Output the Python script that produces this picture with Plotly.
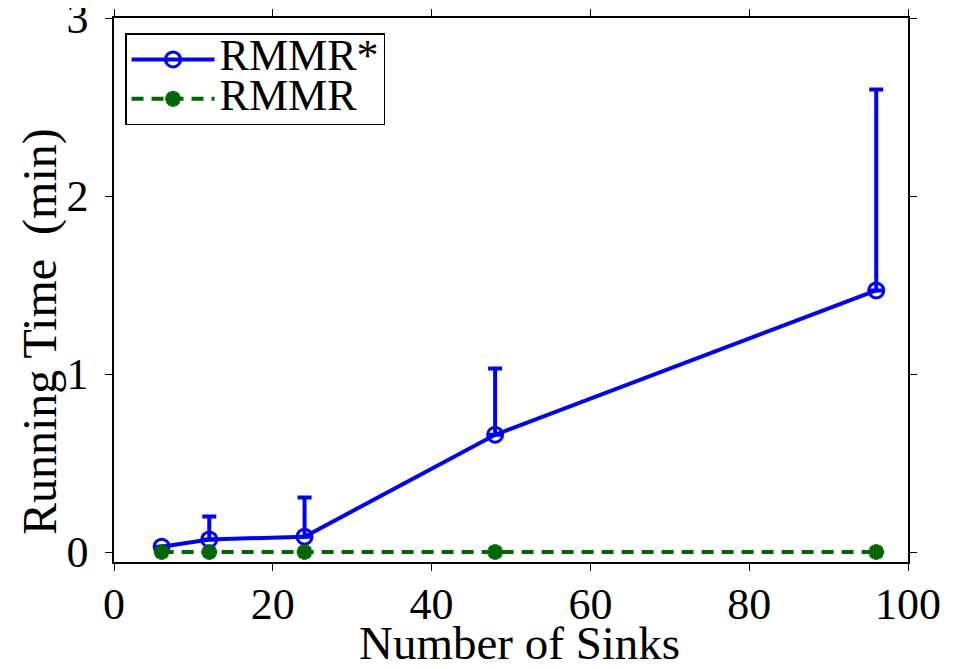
import plotly.graph_objects as go

sinks = [6, 12, 24, 48, 96]
rmmr_star = [0.03, 0.071, 0.086, 0.659, 1.470]
rmmr_star_upper = [0.03, 0.199, 0.306, 1.031, 2.599]
rmmr = [0.0, 0.0, 0.0, 0.0, 0.0]

x_ticks = [0, 20, 40, 60, 80, 100]
y_ticks = [0, 1, 2, 3]

FONT = "Liberation Serif"
BLUE = "#0000FF"
GREEN = "#006600"

err_plus = [u - m for u, m in zip(rmmr_star_upper, rmmr_star)]

def big(s):
    return '<span style="font-size:44px">' + s + '</span>'

fig = go.Figure()
fig.add_trace(go.Scatter(
    x=sinks, y=rmmr_star, name=big("RMMR*"), mode="lines+markers",
    line=dict(color=BLUE, width=4),
    marker=dict(symbol="circle-open", size=15, color=BLUE, line=dict(width=3, color=BLUE)),
    error_y=dict(type="data", symmetric=False, array=err_plus,
                 arrayminus=[0] * len(sinks), color=BLUE, thickness=4, width=7),
))
fig.add_trace(go.Scatter(
    x=sinks, y=rmmr, name=big("RMMR"), mode="lines+markers",
    line=dict(color=GREEN, width=4, dash="12px,8px"),
    marker=dict(symbol="asterisk", size=13, color=GREEN, line=dict(width=5, color=GREEN)),
))

axis_common = dict(
    showline=True, linecolor="black", linewidth=1.5, mirror="ticks",
    ticks="outside", ticklen=7, tickwidth=1.2, tickcolor="black",
    showgrid=False, zeroline=False, automargin=False, ticklabeloverflow="allow",
    tickfont=dict(family=FONT, size=44, color="black"),
)

fig.update_xaxes(range=[0, 100], tickvals=x_ticks, ticktext=[str(v) for v in x_ticks],
                 ticklabelstandoff=-5, **axis_common)
fig.update_yaxes(range=[-0.056, 3.0005], tickvals=y_ticks, ticktext=[str(v) for v in y_ticks],
                 ticklabelstandoff=8, **axis_common)

fig.add_annotation(text="Number of Sinks", xref="paper", yref="paper",
                   x=0.511, y=-0.149, xanchor="center", yanchor="middle", showarrow=False,
                   font=dict(family=FONT, size=47, color="black"))
fig.add_annotation(text="Running Time  (min)", textangle=-90, xref="paper", yref="paper",
                   x=-0.0932, y=0.4246, xanchor="center", yanchor="middle", showarrow=False,
                   font=dict(family=FONT, size=48, color="black"))

fig.update_layout(
    width=949, height=661,
    margin=dict(l=106, r=49, t=10, b=107, autoexpand=False),
    plot_bgcolor="white", paper_bgcolor="white",
    font=dict(family=FONT, color="black"),
    legend=dict(x=0.0139, y=0.972, xanchor="left", yanchor="top",
                bgcolor="white", bordercolor="black", borderwidth=1.5,
                font=dict(family=FONT, size=28, color="black"),
                tracegroupgap=0, itemwidth=83),
)

fig.write_html("out.html")
